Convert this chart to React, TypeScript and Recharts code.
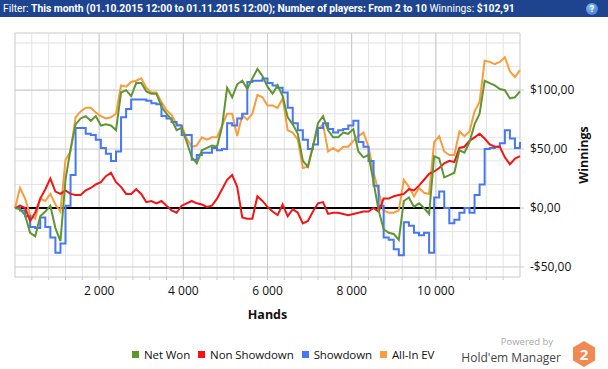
import {
    LineChart,
    Line,
    XAxis,
    YAxis,
    CartesianGrid,
    ReferenceLine,
    ReferenceArea,
    Legend,
} from 'recharts';

// hands between two samples
const HAND_STEP = 120;

// cumulative winnings in $, one value per HAND_STEP hands
const netWon = [
    0, -1, -6, -21, -24, -7, -3, 2, -17, -28,
    24, 50, 71, 76, 78, 74, 78, 70, 71, 70,
    66, 98, 100, 95, 106, 106, 99, 97, 97, 86,
    80, 75, 66, 68, 56, 43, 38, 49, 51, 53,
    52, 69, 102, 94, 105, 108, 101, 110, 118, 112,
    103, 97, 104, 95, 77, 71, 63, 40, 35, 52,
    72, 78, 66, 60, 60, 64, 63, 67, 48, 43,
    45, 22, -2, -18, -21, -22, -27, 6, 9, 1,
    4, 0, -5, 44, 42, 26, 28, 30, 49, 47,
    56, 71, 80, 108, 106, 104, 101, 100, 93, 94,
    99,
];

const allInEv = [
    0, 17, 8, -6, -9, 8, 6, 12, 3, -3,
    41, 48, 77, 82, 85, 85, 81, 78, 76, 77,
    80, 104, 103, 107, 108, 110, 102, 98, 98, 90,
    83, 79, 71, 70, 59, 52, 53, 60, 58, 60,
    60, 70, 80, 80, 61, 79, 75, 80, 96, 94,
    87, 87, 85, 93, 66, 64, 58, 34, 35, 53,
    67, 71, 48, 51, 48, 52, 52, 57, 61, 64,
    52, 30, 14, -2, -4, -4, -2, 24, 18, 10,
    17, 13, 12, 56, 61, 48, 45, 45, 65, 61,
    65, 82, 90, 125, 124, 122, 124, 128, 116, 111,
    117,
];

const showdown = [
    0, -2, -7, -16, -17, -8, -16, -25, -38, -30,
    2, 28, 68, 68, 63, 62, 58, 51, 46, 40,
    48, 77, 84, 92, 92, 92, 91, 89, 88, 78,
    76, 73, 70, 62, 62, 41, 45, 47, 47, 51,
    49, 50, 72, 70, 76, 80, 107, 108, 108, 110,
    106, 104, 102, 98, 85, 72, 66, 58, 50, 54,
    68, 72, 67, 64, 66, 67, 70, 74, 56, 52,
    40, 19, 2, -25, -27, -35, -40, -12, -15, -21,
    -23, -21, -38, 9, 14, 0, -13, -10, -4, 0,
    -4, 11, 20, 50, 51, 52, 55, 66, 59, 51,
    56,
];

const nonShowdown = [
    0, 2, 0, -11, -4, 8, 16, 25, 14, 12,
    15, 12, 11, 11, 15, 17, 20, 22, 27, 30,
    22, 18, 12, 12, 16, 12, 5, 6, 4, 6,
    2, -2, -4, 2, 4, 6, 4, 3, 1, 2,
    8, 16, 24, 28, 18, -8, -9, -9, 10, 6,
    1, -3, -6, 3, -7, -1, -4, -13, -11, -3,
    4, 5, -5, -4, -4, -5, -6, -5, -4, -3,
    -3, 0, -3, 8, 8, 10, 11, 12, 16, 15,
    19, 24, 29, 31, 34, 38, 40, 39, 51, 52,
    57, 60, 63, 59, 54, 52, 52, 43, 37, 42,
    44,
];

const xLabelTicks = [2000, 4000, 6000, 8000, 10000];
const yLabelTicks = [-50, 0, 50, 100];

const X_MAX = 12000;
const Y_MIN = -58.5;
const Y_MAX = 148.5;

const legendOrder = ['Net Won', 'Non Showdown', 'Showdown', 'All-In EV'];

const FONT = '"Open Sans", "Noto Sans", sans-serif';

const chartData = netWon.map((v, i) => ({
    hands: i * HAND_STEP,
    netWon: v,
    nonShowdown: nonShowdown[i],
    showdown: showdown[i],
    allInEv: allInEv[i],
}));

const minorX: number[] = [];
for (let h = 400; h < X_MAX; h += 400) minorX.push(h);
const minorY: number[] = [];
for (let v = -50; v <= 140; v += 10) minorY.push(v);

const fmtHands = (v: number) =>
    v % 2000 === 0 && v > 0 && v < X_MAX ? String(v).replace(/(\d)(?=(\d{3})+$)/g, '$1 ') : '';

const fmtMoney = (v: number) => (v < 0 ? '-$' : '$') + Math.abs(v) + ',00';

function ChartLegend(props: any) {
    const items = [...(props.payload ?? [])].sort(
        (a: any, b: any) => legendOrder.indexOf(a.value) - legendOrder.indexOf(b.value)
    );
    return (
        <div
            style={{
                display: 'flex',
                paddingLeft: 132,
                paddingTop: 8,
                fontFamily: FONT,
                fontSize: 11.5,
                letterSpacing: -0.1,
            }}
        >
            {items.map((it: any) => (
                <div key={it.value} style={{ display: 'flex', alignItems: 'center', marginRight: 8 }}>
                    <span style={{ width: 7, height: 7, background: it.color, marginRight: 5 }} />
                    <span style={{ color: '#111' }}>{it.value}</span>
                </div>
            ))}
        </div>
    );
}

function WinningsLabel(props: any) {
    const { viewBox } = props;
    const x = viewBox.x + 63;
    const y = viewBox.y + viewBox.height / 2;
    return (
        <text
            x={x}
            y={y}
            transform={`rotate(-90 ${x} ${y})`}
            textAnchor="middle"
            dominantBaseline="central"
            fontFamily={FONT}
            fontSize={12.5}
            fontWeight={700}
            fill="#111"
        >
            Winnings
        </text>
    );
}

export default function App() {
    return (
        <div style={{ width: 608, height: 369, position: 'relative', background: '#fff', fontFamily: FONT }}>
            <style>{'body{margin:0}'}</style>

            {/* filter bar */}
            <div
                style={{
                    height: 17,
                    background: '#1e4490',
                    color: '#fff',
                    fontSize: 10.3,
                    lineHeight: '17px',
                    paddingLeft: 3,
                    whiteSpace: 'nowrap',
                    position: 'relative',
                    fontFamily: 'Roboto, sans-serif',
                }}
            >
                Filter: <b style={{ fontWeight: 700 }}>This month (01.10.2015 12:00 to 01.11.2015 12:00); Number of players: From 2 to 10</b>{' '}
                Winnings: <b style={{ fontWeight: 700 }}>$102,91</b>
                <div
                    style={{
                        position: 'absolute',
                        left: 586,
                        top: 3,
                        width: 12,
                        height: 12,
                        borderRadius: 6,
                        background: 'radial-gradient(circle at 40% 35%, #8fc0f5, #2c6cc4)',
                        color: '#fff',
                        fontSize: 9,
                        fontWeight: 700,
                        lineHeight: '12px',
                        textAlign: 'center',
                    }}
                >
                    ?
                </div>
            </div>

            <LineChart
                width={608}
                height={352}
                data={chartData}
                margin={{ top: 16, right: 0, left: 15, bottom: 0 }}
            >
                <CartesianGrid
                    stroke="#e3e3e3"
                    horizontalValues={minorY}
                    verticalValues={minorX}
                />
                <CartesianGrid
                    stroke="#c9c9c9"
                    horizontalValues={yLabelTicks}
                    verticalValues={xLabelTicks}
                />
                <XAxis
                    dataKey="hands"
                    type="number"
                    domain={[0, X_MAX]}
                    ticks={minorX}
                    tickFormatter={fmtHands}
                    interval={0}
                    height={62}
                    tickSize={3}
                    tickMargin={6}
                    axisLine={false}
                    tickLine={{ stroke: '#c9c9c9' }}
                    tick={{ fontSize: 12, fill: '#111', fontFamily: FONT }}
                    label={{
                        value: 'Hands',
                        position: 'insideBottom',
                        offset: 20,
                        fontSize: 12.5,
                        fontWeight: 700,
                        fill: '#111',
                        fontFamily: FONT,
                    }}
                />
                <YAxis
                    orientation="right"
                    type="number"
                    domain={[Y_MIN, Y_MAX]}
                    ticks={yLabelTicks}
                    tickFormatter={fmtMoney}
                    width={88}
                    tickSize={4}
                    tickMargin={6}
                    axisLine={false}
                    tickLine={{ stroke: '#c9c9c9' }}
                    tick={{ fontSize: 12, fill: '#111', fontFamily: FONT, textAnchor: 'start' }}
                    label={<WinningsLabel />}
                />
                <ReferenceArea
                    x1={0}
                    x2={X_MAX}
                    y1={Y_MIN}
                    y2={Y_MAX}
                    fill="none"
                    stroke="#c9c9c9"
                    ifOverflow="visible"
                />
                <ReferenceLine y={0} stroke="#000" strokeWidth={2} />
                <Legend verticalAlign="bottom" height={30} wrapperStyle={{ left: 0, width: 608 }} content={<ChartLegend />} />

                <Line
                    type="linear"
                    dataKey="allInEv"
                    name="All-In EV"
                    stroke="#f89c3c"
                    strokeWidth={2}
                    dot={false}
                    isAnimationActive={false}
                />
                <Line
                    type="stepAfter"
                    dataKey="showdown"
                    name="Showdown"
                    stroke="#4677f5"
                    strokeWidth={2}
                    dot={false}
                    isAnimationActive={false}
                />
                <Line
                    type="linear"
                    dataKey="nonShowdown"
                    name="Non Showdown"
                    stroke="#f41414"
                    strokeWidth={2}
                    dot={false}
                    isAnimationActive={false}
                />
                <Line
                    type="linear"
                    dataKey="netWon"
                    name="Net Won"
                    stroke="#5f9632"
                    strokeWidth={2}
                    dot={false}
                    isAnimationActive={false}
                />
            </LineChart>

            {/* branding */}
            <div
                style={{
                    position: 'absolute',
                    right: 55,
                    top: 337,
                    fontSize: 9.5,
                    lineHeight: '10px',
                    color: '#a8a8a8',
                    whiteSpace: 'nowrap',
                }}
            >
                Powered by
            </div>
            <div
                style={{
                    position: 'absolute',
                    right: 47,
                    top: 351,
                    fontSize: 12,
                    lineHeight: '14px',
                    color: '#444',
                    whiteSpace: 'nowrap',
                }}
            >
                Hold'em Manager
            </div>
            <svg style={{ position: 'absolute', left: 572, top: 340 }} width={24} height={28}>
                <polygon points="12,1 23,7.5 23,20.5 12,27 1,20.5 1,7.5" fill="#f08a52" />
                <text x={12} y={19.5} textAnchor="middle" fontSize={15} fontWeight={700} fill="#fff" fontFamily={FONT}>
                    2
                </text>
            </svg>
        </div>
    );
}
